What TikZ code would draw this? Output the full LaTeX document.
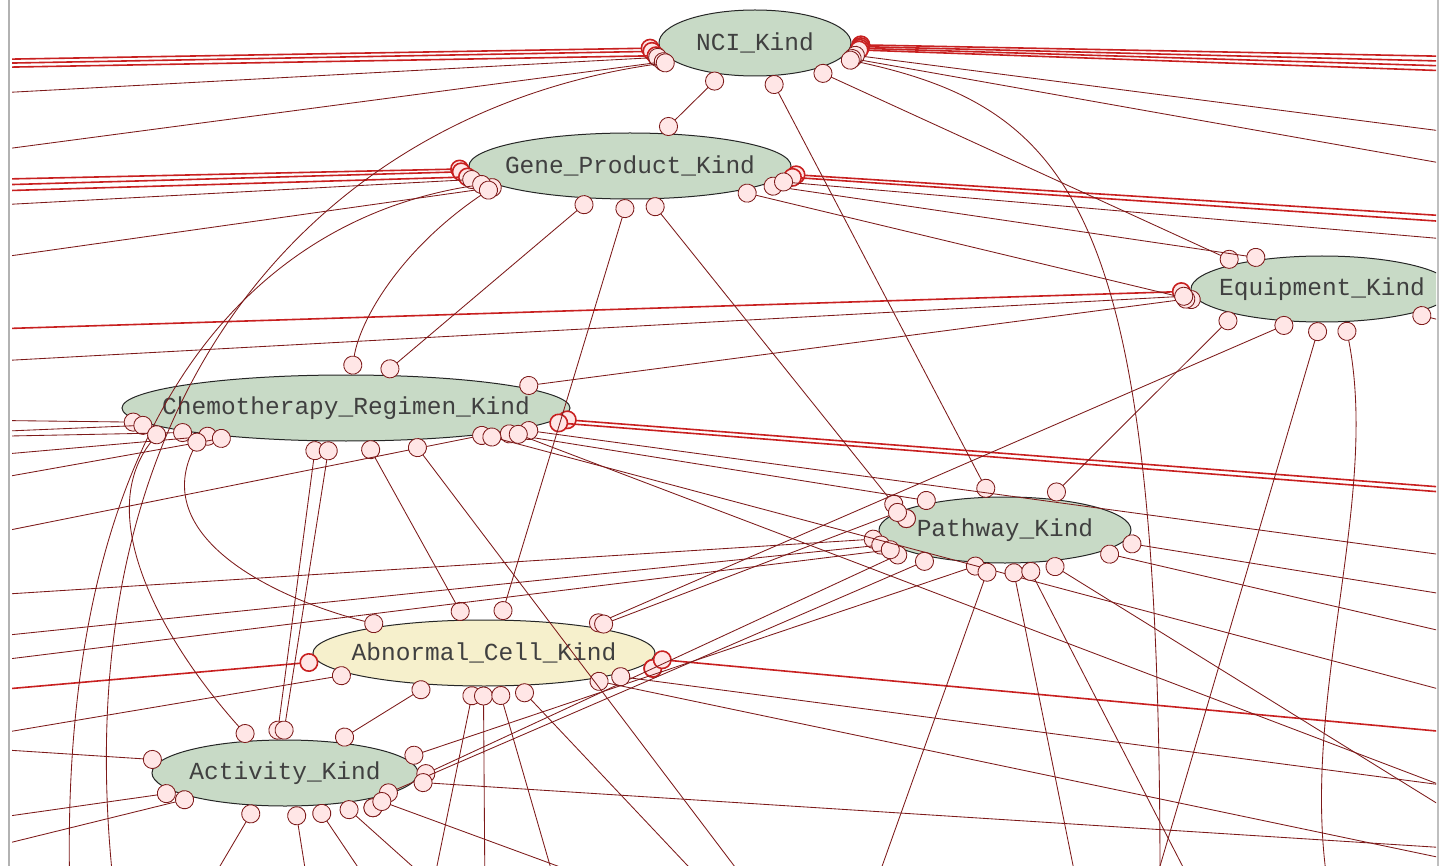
\documentclass[tikz,border=0pt]{standalone}
\usepackage{fontspec}
\usepackage{tikz}
\usetikzlibrary{shapes.geometric, arrows.meta}

\newfontfamily\kindfont{Liberation Mono}
\definecolor{kindgreen}{RGB}{200,218,198}
\definecolor{kindyellow}{RGB}{246,240,204}
\definecolor{linkred}{RGB}{125,26,26}
\definecolor{bundlered}{RGB}{200,32,32}
\definecolor{dotfill}{RGB}{255,230,230}

% label without width, so the ellipse keeps its own size
\newcommand{\kindname}[1]{\makebox[0pt]{#1}}

\begin{document}
\begin{tikzpicture}[x=1pt,y=-1pt,
    kind/.style={ellipse,draw=black!85,line width=1pt,fill=kindgreen,inner sep=0pt,
      minimum height=66pt,text=black!75,font=\kindfont\fontsize{24.5}{24}\selectfont},
    link/.style={draw=linkred,line width=0.85pt,
      {Circle[length=19pt,fill=dotfill]}-{Circle[length=19pt,fill=dotfill]}},
    bundle/.style={link,draw=bundlered,line width=1.6pt}]
  \useasboundingbox (0,0) rectangle (1445,866);
  \fill[white] (0,0) rectangle (1445,866);
  \draw[black!30,line width=1.2pt] (9,0) -- (9,866);
  \draw[black!25,line width=1.2pt] (1438,0) -- (1438,866);

  \begin{scope}
  \clip (12,0) rectangle (1436,866);
  % kinds
  \node[kind,minimum width=192pt] (nci) at (755,43) {\kindname{NCI\_Kind}};
  \node[kind,minimum width=322pt] (gene) at (630,166) {\kindname{Gene\_Product\_Kind}};
  \node[kind,minimum width=262pt] (equip) at (1322,289) {\kindname{Equipment\_Kind}};
  \node[kind,minimum width=448pt] (chemo) at (346,408) {\kindname{Chemotherapy\_Regimen\_Kind}};
  \node[kind,minimum width=252pt] (path) at (1005,530) {\kindname{Pathway\_Kind}};
  \node[kind,minimum width=342pt,fill=kindyellow] (abn) at (484,653) {\kindname{Abnormal\_Cell\_Kind}};
  \node[kind,minimum width=266pt] (act) at (285,773) {\kindname{Activity\_Kind}};

  % loose ends outside the frame
  \foreach \y in {60,64,68,95,155,180,186,192,207,263,330,363,420,433,437,458,485,540,597,640,665,693,740,747,823,855}
    \coordinate (w\y) at (-40,\y);
  \foreach \y in {57,62,67,72,136,170,218,224,242,330,490,495,560,600,640,700,735,790,800,830,850,866}
    \coordinate (e\y) at (1480,\y);
  \foreach \x in {200,310,380,430,450,485,560,650,720,760,870,1080,1150,1200,1330}
    \coordinate (s\x) at (\x,900);

  % heavy bundles
  \path[bundle]
    (w60) edge (nci.183) (w64) edge (nci.185) (w68) edge (nci.188)
    (nci.359) edge (e57) (nci.358) edge (e62) (nci.357) edge (e67) (nci.356) edge (e72)
    (w180) edge (gene.181) (w186) edge (gene.182) (w192) edge (gene.184)
    (gene.357) edge (e218) (gene.356) edge (e224)
    (w330) edge (equip.181)
    (chemo.357) edge (e490) (chemo.356) edge (e495)
    (w693) edge (abn.183)
    (abn.358) edge (e735);

  % links between kinds
  \path[link]
    (nci.223) edge (gene.46)
    (nci.294) edge (path.114)
    (nci.336) edge (equip.163)
    (gene.352) edge (equip.152)
    (gene.347) edge (equip.186)
    (gene.220) edge (chemo.42)
    (gene.266) edge (abn.64)
    (gene.300) edge (path.170)
    (equip.196) edge (path.35)
    (equip.228) edge (abn.14)
    (chemo.7) edge (equip.184)
    (chemo.228) edge (act.104)
    (chemo.244) edge (act.94)
    (chemo.301) edge (abn.120)
    (chemo.351) edge (path.158)
    (act.31) edge (abn.210)
    (act.7) edge (path.238)
    (path.192) edge (act.358)
    (path.201) edge (act.346)
    (path.168) edge (abn.13);

  % links leaving the frame
  \path[link]
    (w95) edge (nci.189) (w155) edge (nci.192)
    (w207) edge (gene.185) (w263) edge (gene.189)
    (w363) edge (equip.183)
    (w420) edge (chemo.184) (w433) edge (chemo.185) (w437) edge (chemo.189)
    (w458) edge (chemo.192) (w485) edge (chemo.194) (w540) edge (chemo.350)
    (w597) edge (path.184) (w640) edge (path.187) (w665) edge (path.190)
    (w740) edge (abn.189) (w747) edge (act.174)
    (w823) edge (act.190) (w855) edge (act.195)
    (nci.353) edge (e136) (nci.351) edge (e170)
    (gene.354) edge (e242)
    (equip.345) edge (e330)
    (chemo.353) edge (e560) (chemo.349) edge (e700) (chemo.352) edge (e800)
    (path.354) edge (e600) (path.347) edge (e640) (path.323) edge (e830)
    (abn.350) edge (e790) (abn.346) edge (e866)
    (act.356) edge (e850)
    (equip.267) edge (s1150)
    (chemo.334) edge (s760)
    (path.246) edge (s870) (path.282) edge (s1080) (path.303) edge (s1200)
    (abn.253) edge (s430) (abn.269) edge (s485) (abn.293) edge (s560) (abn.316) edge (s720)
    (act.228) edge (s200) (act.287) edge (s310) (act.314) edge (s380)
    (act.332) edge (s450) (act.344) edge (s650);

  % long curved links
  \coordinate (s70) at (70,900);
  \coordinate (s115) at (115,900);
  \coordinate (s1160) at (1160,900);
  \draw[link] (nci.350) .. controls (1080,110) and (1160,220) .. (s1160);
  \draw[link] (nci.193) .. controls (330,110) and (60,380) .. (s115);
  \draw[link] (gene.187) .. controls (250,220) and (60,420) .. (s70);
  \draw[link] (gene.188) .. controls (400,250) and (360,320) .. (chemo.81);
  \draw[link] (chemo.186) .. controls (90,520) and (170,650) .. (act.136);
  \draw[link] (chemo.190) .. controls (150,540) and (280,600) .. (abn.165);
  \draw[link] (equip.305) .. controls (1380,500) and (1300,700) .. (s1330);
  \end{scope}
\end{tikzpicture}
\end{document}
